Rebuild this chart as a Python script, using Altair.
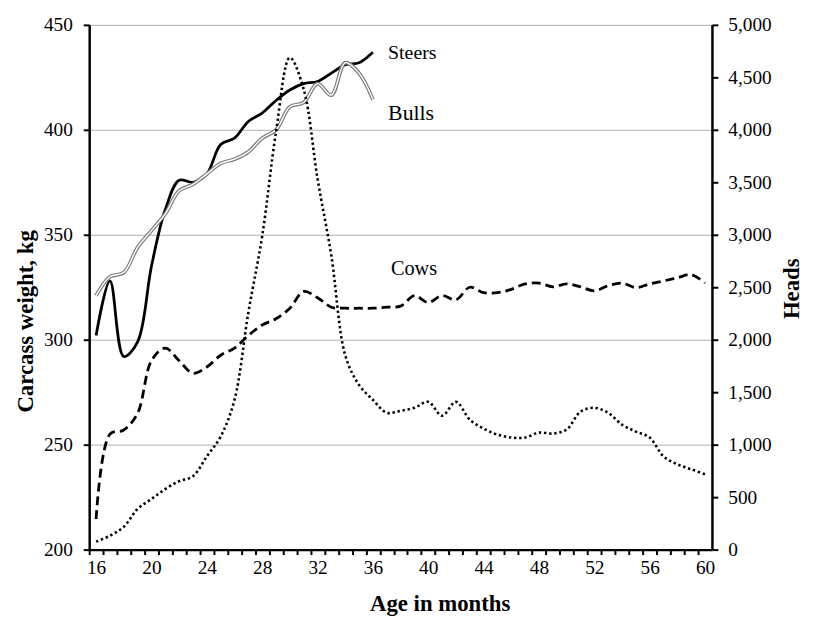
import altair as alt
import pandas as pd

# ---- data ----
months = list(range(16, 61))
steer_months = list(range(16, 37))
steers = [302, 328, 292, 299, 335, 362, 376, 375, 379, 393, 396, 404, 408, 414, 419, 422, 423, 427, 431, 432, 437]
bulls = [321, 330, 332, 344, 352, 360, 371, 374, 379, 384, 386, 389.5, 396, 400, 411, 413, 422, 416.5, 432, 427, 414.5]
cows = [214.6, 255, 257, 265, 290, 296, 290, 284, 287, 292.6, 296, 302, 307, 310, 315, 323, 320, 315.5, 315, 315,
        315, 315.5, 316, 321, 317.7, 321, 319, 325, 322.4, 322.4, 324, 326.6, 327, 325.2, 326.6, 325.2, 323.3,
        325.7, 327, 324.8, 326.6, 328, 329.5, 331, 327]
heads = [76, 132, 217, 388, 482, 577, 652, 700, 888, 1077, 1427, 2259, 2987, 3979, 4688, 4386, 3535, 2798, 1853,
         1569, 1427, 1304, 1323, 1351, 1408, 1276, 1408, 1238, 1153, 1096, 1068, 1068, 1115, 1106, 1144, 1314,
         1351, 1304, 1191, 1125, 1068, 888, 813, 766, 718]
left_ticks = [200, 250, 300, 350, 400, 450]
right_ticks = list(range(0, 5001, 500))
label_text = ["Steers", "Bulls", "Cows"]
label_month = [37.1, 37.1, 37.3]
label_kg = [433.7, 404.7, 330.7]
label_size = [20, 22, 20.5]

FONT = "Liberation Serif"

df_sb = pd.DataFrame({"month": steer_months, "steers": steers, "bulls": bulls})
df_all = pd.DataFrame({"month": months, "cows": cows, "heads": heads})
df_lab = pd.DataFrame({"month": label_month, "kg": label_kg, "text": label_text, "fs": label_size})

xscale = alt.Scale(domain=[15.5, 60.5], nice=False, zero=False)
xaxis = alt.Axis(
    values=months, labelExpr="datum.value % 4 == 0 ? datum.label : ''",
    tickOffset=-7, labelOffset=7, tickSize=5, tickWidth=2, tickColor="black",
    domainColor="black", domainWidth=2.5, grid=False, labelFontSize=19.5, labelPadding=4,
    labelColor="black", labelFlush=False, labelOverlap=False,
    title="Age in months", titleFontSize=23, titleFontWeight="bold", titleColor="black",
    titleX=354, titleY=61, titleAlign="center", titleBaseline="alphabetic",
)
X = alt.X("month:Q", scale=xscale, axis=xaxis)

yl_scale = alt.Scale(domain=[200, 450], nice=False, zero=False)
yl_axis = alt.Axis(
    values=left_ticks, grid=True, gridColor="#b0b0b0", gridWidth=1,
    tickSize=6, tickWidth=2, tickColor="black", domainColor="black", domainWidth=2.5,
    labelFontSize=19.5, labelPadding=11, labelColor="black",
    title="Carcass weight, kg", titleFontSize=23, titleFontWeight="bold", titleColor="black",
    titleAngle=270, titleX=-64, titleY=299, titleAlign="center", titleBaseline="middle",
)
yr_scale = alt.Scale(domain=[0, 5000], nice=False, zero=False)
yr_axis = alt.Axis(
    orient="right", values=right_ticks, format=",d", grid=False,
    tickSize=6, tickWidth=2, tickColor="black", domainColor="black", domainWidth=2.5,
    labelFontSize=19.5, labelPadding=10, labelColor="black",
    title="Heads", titleFontSize=23, titleFontWeight="bold", titleColor="black",
    titleAngle=270, titleX=80, titleY=266, titleAlign="center", titleBaseline="middle",
)

base_sb = alt.Chart(df_sb)
steers_line = base_sb.mark_line(color="black", strokeWidth=2.8, interpolate="catmull-rom").encode(
    x=X, y=alt.Y("steers:Q", scale=yl_scale, axis=yl_axis))
bulls_outer = base_sb.mark_line(color="#7a7a7a", strokeWidth=3.8, interpolate="catmull-rom").encode(
    x=X, y=alt.Y("bulls:Q", scale=yl_scale, axis=yl_axis))
bulls_inner = base_sb.mark_line(color="white", strokeWidth=1.4, interpolate="catmull-rom").encode(
    x=X, y=alt.Y("bulls:Q", scale=yl_scale, axis=yl_axis))
cows_line = alt.Chart(df_all).mark_line(color="black", strokeWidth=2.8, strokeDash=[9, 5],
                                        interpolate="catmull-rom").encode(
    x=X, y=alt.Y("cows:Q", scale=yl_scale, axis=yl_axis))
labels = alt.Chart(df_lab).mark_text(font=FONT, align="left", baseline="alphabetic", color="black").encode(
    x=X, y=alt.Y("kg:Q", scale=yl_scale, axis=yl_axis), text="text:N",
    size=alt.Size("fs:Q", scale=None, legend=None))

left = alt.layer(cows_line, steers_line, bulls_outer, bulls_inner, labels)

heads_line = alt.Chart(df_all).mark_line(color="black", strokeWidth=2.6, strokeDash=[2.4, 2.8],
                                         interpolate="catmull-rom").encode(
    x=X, y=alt.Y("heads:Q", scale=yr_scale, axis=yr_axis))

chart = alt.layer(left, heads_line).resolve_scale(y="independent").properties(
    width=629, height=530,
    autosize=alt.AutoSizeParams(type="none"),
    padding={"left": 82, "top": 14, "right": 95, "bottom": 64},
).configure_view(stroke=None).configure_axis(labelFont=FONT, titleFont=FONT).configure_text(font=FONT)

chart.save("out.html", embed_options={"renderer": "svg", "actions": False})
